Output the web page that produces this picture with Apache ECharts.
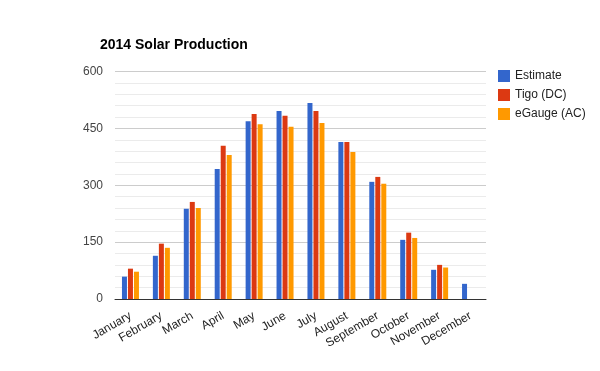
<!DOCTYPE html>
<html>
<head>
<meta charset="utf-8">
<script src="https://cdn.jsdelivr.net/npm/echarts@6/dist/echarts.min.js"></script>
<style>
html,body{margin:0;padding:0;background:#fff;}
#chart{width:600px;height:371px;}
</style>
</head>
<body>
<div id="chart"></div>
<script>
const months = ['January','February','March','April','May','June','July','August','September','October','November','December'];
const estimate = [59, 114, 238, 343, 469, 496, 517, 414, 309, 156, 77, 40];
const tigo = [80, 146, 256, 404, 488, 483, 496, 414, 322, 175, 90, null];
const egauge = [72, 135, 240, 380, 461, 454, 464, 388, 304, 161, 83, null];
const yTicks = [0, 150, 300, 450, 600];

const chart = echarts.init(document.getElementById('chart'), null, {renderer: 'canvas'});
const font = 'Liberation Sans, Arial, sans-serif';
chart.setOption({
  animation: false,
  backgroundColor: '#fff',
  title: {
    text: '2014 Solar Production',
    left: 95, top: 33,
    textStyle: {fontFamily: font, fontSize: 14, fontWeight: 'bold', color: '#000'}
  },
  legend: {
    orient: 'vertical',
    left: 493, top: 65,
    itemWidth: 12, itemHeight: 12, itemGap: 7,
    icon: 'rect',
    textStyle: {fontFamily: font, fontSize: 12, color: '#222'},
    data: ['Estimate', 'Tigo (DC)', 'eGauge (AC)']
  },
  grid: {left: 115, right: 114, top: 71.5, bottom: 72},
  xAxis: {
    type: 'category',
    data: months,
    axisTick: {show: false},
    axisLine: {lineStyle: {color: '#333', width: 1}},
    axisLabel: {rotate: 30, margin: 16, fontFamily: font, fontSize: 12, color: '#222', interval: 0}
  },
  yAxis: {
    type: 'value',
    min: yTicks[0], max: yTicks[yTicks.length - 1], interval: 150,
    axisLine: {show: false},
    axisTick: {show: false},
    axisLabel: {margin: 12, fontFamily: font, fontSize: 12, color: '#444'},
    splitLine: {lineStyle: {color: '#ccc', width: 1}},
    minorTick: {show: false, splitNumber: 5},
    minorSplitLine: {show: true, lineStyle: {color: '#ebebeb', width: 1}}
  },
  series: [
    {name: 'Estimate', type: 'bar', data: estimate, barWidth: 5, barGap: '20%', itemStyle: {color: '#3366cc'}},
    {name: 'Tigo (DC)', type: 'bar', data: tigo, barWidth: 5, barGap: '20%', itemStyle: {color: '#dc3912'}},
    {name: 'eGauge (AC)', type: 'bar', data: egauge, barWidth: 5, barGap: '20%', itemStyle: {color: '#ff9900'}}
  ]
});
</script>
</body>
</html>
